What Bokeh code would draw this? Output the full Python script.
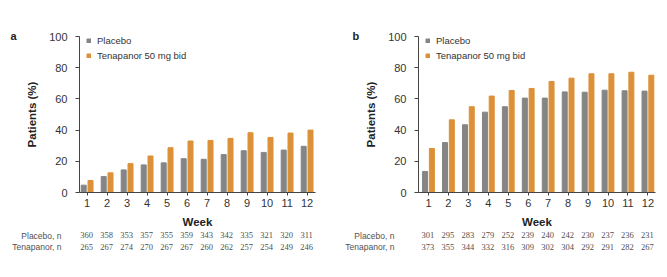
from bokeh.plotting import figure
from bokeh.models import ColumnDataSource, LabelSet, FixedTicker, Range1d, LinearAxis
from bokeh.layouts import row, column
from bokeh.transform import dodge
from bokeh.embed import file_html
from bokeh.resources import INLINE

weeks = [1, 2, 3, 4, 5, 6, 7, 8, 9, 10, 11, 12]

# Panel a
a_placebo = [4.7, 10.2, 14.5, 17.7, 19.0, 21.7, 21.3, 24.3, 26.8, 25.7, 27.2, 29.6]
a_tenapanor = [7.7, 12.6, 18.5, 23.4, 28.7, 33.0, 33.4, 34.7, 38.3, 35.3, 38.1, 40.0]
a_n_placebo = [360, 358, 353, 357, 355, 359, 343, 342, 335, 321, 320, 311]
a_n_tenapanor = [265, 267, 274, 270, 267, 267, 260, 262, 257, 254, 249, 246]

# Panel b
b_placebo = [13.5, 32.0, 43.4, 51.5, 55.0, 60.5, 60.5, 64.5, 64.3, 65.6, 65.2, 65.0]
b_tenapanor = [28.2, 46.6, 55.0, 61.8, 65.4, 66.7, 71.2, 73.3, 76.1, 76.1, 77.1, 75.2]
b_n_placebo = [301, 295, 283, 279, 252, 239, 240, 242, 230, 237, 236, 231]
b_n_tenapanor = [373, 355, 344, 332, 316, 309, 302, 304, 292, 291, 282, 267]

row_labels = ["Placebo, n", "Tenapanor, n"]

GRAY = "#858585"
ORANGE = "#dc9038"
AXIS = "#444444"
TXT = "#333333"
NTXT = "#505050"
FONT = "Liberation Sans"

MAIN_H = 230
TABLE_H = 47


def make_panel(letter, placebo, tenapanor, n_pl, n_te, xr, width, left, right, letter_x):
    p = figure(width=width, height=MAIN_H, output_backend="svg", toolbar_location=None,
               x_range=Range1d(*xr), y_range=Range1d(0, 100),
               min_border_left=left, min_border_right=right,
               min_border_top=36, min_border_bottom=MAIN_H - 36 - 157,
               title=letter)
    p.title.align = "left"
    p.title.offset = letter_x - left
    p.title.standoff = -10
    p.title.text_font = FONT
    p.title.text_font_style = "bold"
    p.title.text_font_size = "11px"
    p.title.text_color = "#222222"
    p.outline_line_color = None
    p.grid.visible = False
    src = ColumnDataSource(dict(week=weeks, pl=placebo, te=tenapanor))
    p.vbar(x=dodge("week", -0.17, range=p.x_range), top="pl", width=0.25, bottom=0,
           source=src, color=GRAY, legend_label="Placebo")
    p.vbar(x=dodge("week", 0.17, range=p.x_range), top="te", width=0.25, bottom=0,
           source=src, color=ORANGE, legend_label="Tenapanor 50 mg bid")

    for ax in (p.xaxis[0], p.yaxis[0]):
        ax.axis_line_color = AXIS
        ax.major_tick_line_color = AXIS
        ax.minor_tick_line_color = None
        ax.major_tick_in = 0
        ax.major_label_text_font = FONT
        ax.major_label_text_font_size = "11px"
        ax.major_label_text_color = TXT
        ax.axis_label_text_font = FONT
        ax.axis_label_text_font_style = "bold"
        ax.axis_label_text_font_size = "11.5px"
        ax.axis_label_text_color = "#222222"
    p.yaxis.ticker = FixedTicker(ticks=[0, 20, 40, 60, 80, 100])
    p.yaxis.major_tick_out = 4
    p.yaxis.major_label_standoff = 8
    p.yaxis.axis_label = "Patients (%)"
    p.yaxis.axis_label_standoff = 8
    p.xaxis.ticker = FixedTicker(ticks=weeks)
    p.xaxis.major_tick_out = 3
    p.xaxis.major_label_standoff = 3
    p.xaxis.axis_label = "Week"
    p.xaxis.axis_label_standoff = 6

    lg = p.legend[0]
    lg.location = (7, 131)
    lg.border_line_color = None
    lg.background_fill_alpha = 0
    lg.padding = 0
    lg.margin = 0
    lg.glyph_width = 5
    lg.glyph_height = 5
    lg.label_height = 11
    lg.spacing = 4
    lg.label_standoff = 6
    lg.label_text_font = FONT
    lg.label_text_font_size = "9.5px"
    lg.label_text_color = TXT

    # table of n below, sharing the week scale
    row_y = [4, 16]
    t = figure(width=width, height=TABLE_H, output_backend="svg", toolbar_location=None,
               x_range=p.x_range, y_range=Range1d(TABLE_H, 0),
               min_border_left=left, min_border_right=right,
               min_border_top=0, min_border_bottom=0,
               x_axis_type=None, y_axis_type=None)
    t.outline_line_color = None
    t.grid.visible = False
    yax = LinearAxis(ticker=FixedTicker(ticks=row_y),
                     major_label_overrides={row_y[0]: row_labels[0], row_y[1]: row_labels[1]})
    yax.axis_line_color = None
    yax.major_tick_line_color = None
    yax.minor_tick_line_color = None
    yax.major_tick_in = 0
    yax.major_tick_out = 0
    yax.major_label_standoff = left - 61
    yax.major_label_text_font = FONT
    yax.major_label_text_font_size = "8.5px"
    yax.major_label_text_color = NTXT
    t.add_layout(yax, "left")
    tsrc = ColumnDataSource(dict(week=weeks,
                                 npl=[str(v) for v in n_pl], nte=[str(v) for v in n_te],
                                 ypl=[row_y[0]] * 12, yte=[row_y[1]] * 12))
    for col, ycol in (("npl", "ypl"), ("nte", "yte")):
        t.add_layout(LabelSet(x="week", y=ycol, text=col, source=tsrc, x_offset=-0.5,
                              text_align="center", text_baseline="middle",
                              text_font=FONT, text_font_size="8.5px", text_color=NTXT))
    return column(p, t, spacing=0)


pa = make_panel("a", a_placebo, a_tenapanor, a_n_placebo, a_n_tenapanor,
                (0.62, 12.42), 333, 79, 18, 10)
pb = make_panel("b", b_placebo, b_tenapanor, b_n_placebo, b_n_tenapanor,
                (0.5, 12.38), 334, 85, 12, 19)

layout = row(pa, pb, spacing=0)
open("out.html", "w").write(file_html(layout, INLINE))
